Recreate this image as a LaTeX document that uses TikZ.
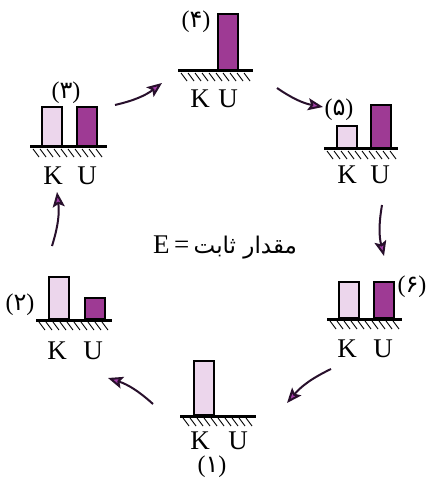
\documentclass[tikz,border=0pt]{standalone}
\usepackage{fontspec}
\setmainfont{Liberation Serif}
\newfontfamily\arabicfont[Script=Arabic]{DejaVu Sans}
\TeXXeTstate=1
\usetikzlibrary{arrows.meta}
\definecolor{klight}{RGB}{236,214,236}
\definecolor{upurple}{RGB}{158,58,148}
\definecolor{arrowdark}{RGB}{40,16,44}
\definecolor{headpurple}{RGB}{165,62,170}
\tikzset{
  kbar/.style={draw=black, line width=2.4pt, fill=klight, minimum width=19.6pt, inner sep=0pt, anchor=south west},
  ubar/.style={kbar, fill=upurple},
  lbl/.style={font=\fontsize{27}{27}\selectfont, inner sep=0pt},
  num/.style={font=\fontsize{24}{24}\selectfont, inner sep=0pt},
  floor/.style={line width=3pt, black},
  hatchline/.style={line width=0.9pt, black},
  cyc/.style={arrowdark, line width=2pt, -{Stealth[length=15pt,width=12pt,inset=3pt,fill=headpurple]}}
}
\newcommand{\floorhatch}[3]{%
  \draw[floor] (#1,#3) -- (#2,#3);
  \foreach \i in {0,...,9} \draw[hatchline] ({#1+3+7*\i},{#3+2}) -- ++(6,8);
}
\begin{document}
\begin{tikzpicture}[x=1pt,y=-1pt]
\useasboundingbox[fill=white] (0,0) rectangle (428,486);

% panel 4 (top)
\node[ubar, minimum height=56pt] (u4) at (217,71) {};
\floorhatch{178}{253}{71}
\node[lbl] (k4t) at (200,99) {K};
\node[lbl] (u4t) at (228,99) {U};
\node[num] (n4) at (196,22) {({\arabicfont ۴})};

% panel 3 (upper left)
\node[kbar, minimum height=39pt] (k3) at (41,147) {};
\node[ubar, minimum height=39pt] (u3) at (76,147) {};
\floorhatch{30}{107}{147}
\node[lbl] (k3t) at (53,176) {K};
\node[lbl] (u3t) at (87,176) {U};
\node[num] (n3) at (66,93) {({\arabicfont ۳})};

% panel 5 (upper right)
\node[kbar, minimum height=22pt] (k5) at (336,149) {};
\node[ubar, minimum height=43pt] (u5) at (370,149) {};
\floorhatch{324}{398}{149}
\node[lbl] (k5t) at (347,175) {K};
\node[lbl] (u5t) at (380,175) {U};
\node[num] (n5) at (339,110) {({\arabicfont ۵})};

% panel 2 (lower left)
\node[kbar, minimum height=42pt] (k2) at (48,320) {};
\node[ubar, minimum height=21pt] (u2) at (84,320) {};
\floorhatch{36}{112}{320}
\node[lbl] (k2t) at (57,351) {K};
\node[lbl] (u2t) at (93,351) {U};
\node[num] (n2) at (20,305) {({\arabicfont ۲})};

% panel 6 (lower right)
\node[kbar, minimum height=36pt] (k6) at (338,319) {};
\node[ubar, minimum height=36pt] (u6) at (373,319) {};
\floorhatch{327}{402}{319}
\node[lbl] (k6t) at (347,349) {K};
\node[lbl] (u6t) at (383,349) {U};
\node[num] (n6) at (412,287) {({\arabicfont ۶})};

% panel 1 (bottom)
\node[kbar, minimum height=54pt] (k1) at (193,416) {};
\floorhatch{180}{256}{416}
\node[lbl] (k1t) at (200,441) {K};
\node[lbl] (u1t) at (238,441) {U};
\node[num] (n1) at (212,467) {({\arabicfont ۱})};

% centre
\node[lbl] (energy) at (225,247) {E\,=\,{\arabicfont\fontsize{23}{23}\selectfont\beginR مقدار ثابت\endR}};

% cycle arrows
\coordinate (s12) at (153,404); \coordinate (e12) at (108,378);
\coordinate (s23) at (52,246);  \coordinate (e23) at (57,192);
\coordinate (s34) at (115,105); \coordinate (e34) at (162,83);
\coordinate (s45) at (277,88);  \coordinate (e45) at (323,107);
\coordinate (s56) at (382,205); \coordinate (e56) at (384,256);
\coordinate (s61) at (331,369); \coordinate (e61) at (287,403);
\draw[cyc] (s12) to[bend right=12] (e12);
\draw[cyc] (s23) to[bend right=12] (e23);
\draw[cyc] (s34) to[bend right=12] (e34);
\draw[cyc] (s45) to[bend right=12] (e45);
\draw[cyc] (s56) to[bend right=12] (e56);
\draw[cyc] (s61) to[bend right=12] (e61);
\end{tikzpicture}
\end{document}
